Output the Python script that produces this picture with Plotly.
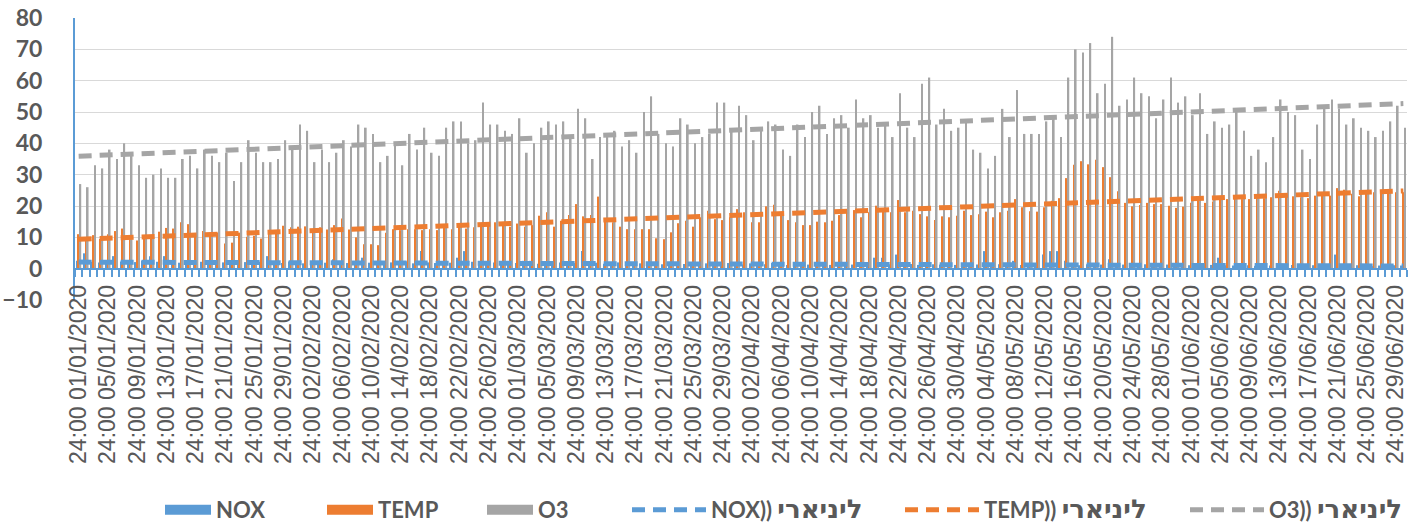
import plotly.graph_objects as go
import pandas as pd

# ---------------- data ----------------
dates = pd.date_range("2020-01-01", "2020-06-30", freq="D")
categories = ["24:00 " + d.strftime("%d/%m/%Y") for d in dates]
tick_labels = categories[::4]

nox = [
    2.5, 4.9, 2.2, 2.0, 2.4, 4.0, 2.3, 1.8, 2.1, 2.6,
    4.0, 2.2, 4.0, 2.1, 1.9, 2.4, 2.0, 2.2, 1.7, 2.3,
    2.0, 1.8, 2.5, 2.1, 1.9, 2.2, 4.0, 2.0, 1.8, 2.3,
    2.1, 1.7, 2.0, 2.4, 1.9, 3.0, 2.2, 1.8, 2.0, 3.5,
    1.9, 2.2, 1.6, 2.0, 1.8, 2.3, 1.7, 5.6, 2.0, 1.8,
    1.5, 1.9, 3.5, 5.6, 2.2, 1.8, 1.6, 2.0, 1.7, 2.1,
    1.8, 2.5, 2.5, 1.6, 1.9, 1.7, 2.0, 1.5, 1.8, 5.6,
    1.7, 1.9, 1.6, 1.4, 2.0, 1.8, 1.5, 1.7, 1.6, 1.9,
    1.4, 1.8, 1.6, 1.5, 1.9, 1.3, 1.7, 1.6, 1.4, 1.8,
    1.5, 1.3, 1.7, 1.6, 1.4, 1.8, 1.5, 1.2, 1.6, 1.4,
    1.3, 1.7, 1.5, 1.2, 1.6, 1.4, 1.3, 1.5, 1.7, 3.5,
    3.5, 1.4, 4.5, 1.3, 1.5, 1.2, 1.6, 1.4, 1.3, 1.5,
    1.2, 1.4, 1.6, 1.3, 5.6, 1.2, 1.4, 1.3, 2.5, 1.2,
    1.4, 1.3, 4.5, 5.6, 5.6, 2.5, 1.3, 1.1, 1.4, 1.2,
    1.3, 3.0, 1.1, 1.3, 1.2, 1.0, 1.4, 1.2, 1.1, 1.3,
    1.0, 1.2, 1.1, 1.3, 1.0, 1.2, 3.5, 1.1, 1.0, 1.2,
    1.1, 0.9, 1.2, 1.0, 1.1, 0.9, 1.2, 1.0, 0.9, 1.1,
    1.0, 1.2, 4.5, 1.0, 0.9, 1.1, 1.0, 0.8, 1.0, 0.9,
    1.1, 1.0,
]

temp = [
    11, 9.5, 10.7, 9.5, 11, 12, 12.8, 9.4, 9, 10,
    10, 11.8, 13, 12.8, 14.8, 14.2, 11, 12, 11, 11.5,
    8, 8.3, 11.5, 10.2, 10.5, 9.6, 11.3, 12, 13.7, 13.2,
    13.4, 13.5, 12.6, 13.2, 12.5, 13.9, 16, 12.5, 10, 7.8,
    7.8, 7.5, 11.5, 12.6, 12.3, 12.6, 12.6, 12.3, 12.6, 12.3,
    13.9, 12.6, 13.9, 12.8, 13.2, 14.2, 14.4, 14.8, 14.4, 13.4,
    14.4, 13.4, 13.9, 16.9, 18, 13.4, 15.3, 17.1, 20.6, 16.7,
    17.1, 23, 15.3, 14.8, 13.4, 12.6, 12.6, 12.6, 12.6, 9.7,
    9.4, 11.6, 14.5, 15.3, 13.4, 16.4, 18.5, 15.8, 15.5, 16.4,
    19, 18, 14.8, 14.8, 19.9, 20.4, 18, 15.5, 14.8, 13.9,
    13.9, 15, 14.8, 15.3, 17.1, 18, 18.7, 16.4, 18, 20.1,
    18.5, 18, 21.9, 18, 18.5, 17.4, 16.7, 15.5, 16.7, 16.4,
    16.9, 18.5, 17.1, 17.4, 18.2, 16.4, 18, 18.5, 22.2, 19.6,
    18.3, 18.2, 19.6, 21.7, 22.5, 28.9, 33.2, 34.3, 33.3, 34.8,
    32.4, 29.2, 24.7, 21, 19.9, 20.3, 21, 20.6, 20.6, 20.1,
    19.4, 19.8, 21, 21.7, 21, 21.4, 22.5, 22.2, 22.5, 22.2,
    22.2, 22.5, 22.5, 22.8, 24.9, 23.3, 23.1, 22.8, 22.5, 23.3,
    23.5, 23.3, 25.7, 25.2, 23.9, 23.1, 23.9, 24.4, 24.6, 24.6,
    24.4, 24.4,
]

o3 = [
    27, 26, 33, 32, 38, 35, 40, 36, 33, 29,
    30, 32, 29, 29, 35, 36, 32, 38, 36, 34,
    37, 28, 34, 41, 37, 34, 34, 35, 41, 39,
    46, 44, 34, 38, 34, 37, 41, 39, 46, 45,
    43, 34, 36, 40, 33, 43, 38, 45, 37, 36,
    45, 47, 47, 40, 41, 53, 46, 46, 44, 43,
    48, 37, 40, 45, 47, 46, 47, 42, 51, 48,
    35, 42, 42, 44, 39, 41, 37, 50, 55, 43,
    40, 39, 48, 46, 40, 42, 43, 53, 53, 44,
    52, 49, 41, 44, 47, 46, 38, 36, 46, 42,
    50, 52, 43, 48, 49, 45, 54, 48, 49, 45,
    46, 42, 56, 45, 42, 59, 61, 46, 51, 44,
    45, 47, 38, 37, 32, 36, 51, 42, 57, 43,
    43, 43, 47, 48, 42, 61, 70, 69, 72, 56,
    59, 74, 52, 54, 61, 56, 55, 48, 54, 61,
    53, 55, 49, 56, 43, 47, 45, 46, 50, 44,
    36, 38, 34, 42, 54, 50, 49, 38, 35, 46,
    51, 54, 51, 46, 48, 45, 44, 42, 44, 47,
    52, 45,
]

# linear trend lines (start / end values)
nox_trend = [2.1, 0.85]
temp_trend = [9.4, 24.8]
o3_trend = [35.9, 52.7]

series_names = ["NOX", "TEMP", "O3"]
trend_word = "ליניארי"
trend_names = [s + ")) " + trend_word for s in series_names]

# ---------------- style ----------------
BLUE = "#5B9BD5"
ORANGE = "#ED7D31"
GRAY = "#A5A5A5"
TXT = "#595959"
colors = [BLUE, ORANGE, GRAY]

x = list(range(len(categories)))
trend_x = [x[0], x[-1]]

fig = go.Figure()

for name, vals, col in zip(series_names, [nox, temp, o3], colors):
    fig.add_trace(go.Bar(
        x=x, y=vals, name=name, customdata=categories,
        marker=dict(color=col, line=dict(width=0)),
        showlegend=False,
        hovertemplate="%{customdata}<br>" + name + ": %{y}<extra></extra>",
    ))

legend_ids = ["legend", "legend2", "legend3", "legend4", "legend5", "legend6"]

# legend swatches for the bar series
for i, (name, col) in enumerate(zip(series_names, colors)):
    fig.add_trace(go.Scatter(
        x=[None], y=[None], mode="lines", name=name,
        line=dict(color=col, width=13), legend=legend_ids[i],
    ))

for i, (s, tr, col) in enumerate(zip(series_names, [nox_trend, temp_trend, o3_trend], colors)):
    label = s + ")) <span style='font-size:26px'>" + trend_word + "</span>"
    fig.add_trace(go.Scatter(
        x=trend_x, y=tr, mode="lines", name=label,
        line=dict(color=col, width=5, dash="13px,8px"),
        legend=legend_ids[3 + i], hoverinfo="skip",
    ))

L, R, T, B = 75, 7, 18, 225
W, H = 1414, 525
pw, ph = W - L - R, H - T - B

legend_px = [165, 327, 487, 632, 905, 1190]
legend_iw = [46, 46, 46, 74, 74, 74]
legend_font = dict(family="Lato, 'DejaVu Sans', sans-serif", size=22, color=TXT, weight="bold")
leg_y = (H - B - 510) / ph

legends = {}
for lid, px, iw in zip(legend_ids, legend_px, legend_iw):
    legends[lid] = dict(
        orientation="h", x=(px - 5 - L) / pw, y=leg_y,
        xanchor="left", yanchor="middle", font=legend_font,
        itemwidth=iw, bgcolor="rgba(0,0,0,0)", borderwidth=0,
        tracegroupgap=0,
    )

fig.update_layout(
    width=W, height=H,
    margin=dict(l=L, r=R, t=T, b=B, pad=0, autoexpand=False),
    plot_bgcolor="white", paper_bgcolor="white",
    barmode="group", bargap=0.3, bargroupgap=0,
    font=dict(family="Lato, 'Liberation Sans', Arial", color=TXT),
    xaxis=dict(
        range=[-0.5, len(x) - 0.5],
        anchor="free", position=10 / 90,
        showline=True, linecolor=BLUE, linewidth=2,
        tickmode="array", tickvals=x[::4], ticktext=tick_labels,
        tickangle=-90, ticks="", ticklabelstandoff=6,
        tickfont=dict(family="'Liberation Sans', Arial", size=23, color=TXT),
        showgrid=False, zeroline=False, automargin=False,
        minor=dict(tickmode="linear", tick0=-0.5, dtick=1, ticks="outside",
                   ticklen=7, tickcolor=BLUE, tickwidth=2, showgrid=False),
    ),
    yaxis=dict(
        range=[-10, 80], tick0=0, dtick=10,
        showgrid=True, gridcolor="#D9D9D9", gridwidth=1,
        zeroline=False, showline=True, linecolor=BLUE, linewidth=2,
        ticks="outside", ticklen=26, tickcolor="rgba(0,0,0,0)",
        tickfont=dict(family="Lato, 'Liberation Sans', Arial", size=23, color=TXT, weight="bold"),
        automargin=False,
    ),
    **legends,
)

fig.write_html(
    "out.html",
    config={"displayModeBar": False},
    post_script="document.body.style.margin='0';document.body.style.padding='0';"
                "document.body.style.overflow='hidden';",
)
